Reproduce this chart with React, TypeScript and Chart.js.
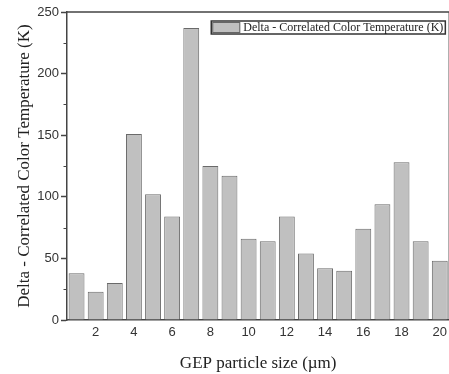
import React, { useEffect, useRef } from 'react';
import { Chart, registerables } from 'chart.js';

Chart.register(...registerables);

// ---- data ----
const particleSizes: string[] = ['1', '2', '3', '4', '5', '6', '7', '8', '9', '10', '11', '12', '13', '14', '15', '16', '17', '18', '19', '20'];
const deltaCCT: number[] = [38, 23, 30, 151, 102, 84, 237, 125, 117, 66, 64, 84, 54, 42, 40, 74, 94, 128, 64, 48];
const seriesLabel = 'Delta - Correlated Color Temperature (K)';
const xTitle = 'GEP particle size (\u00b5m)';
const yTitle = 'Delta - Correlated Color Temperature (K)';
const yMin = 0;
const yMax = 250;
const yStep = 50;
const yMinorValues: number[] = [25, 75, 125, 175, 225];

const AXIS = '#444444';

const decorPlugin = {
  id: 'decor',
  afterDraw(chart: any) {
    const { ctx, chartArea: a, scales } = chart;
    const y = scales.y;
    ctx.save();
    // frame (top + right)
    ctx.strokeStyle = AXIS;
    ctx.lineWidth = 1.5;
    ctx.beginPath();
    ctx.moveTo(a.left, a.top);
    ctx.lineTo(a.right, a.top);
    ctx.lineTo(a.right, a.bottom);
    ctx.stroke();
    // minor ticks on y
    ctx.lineWidth = 1;
    for (const v of yMinorValues) {
      const py = Math.round(y.getPixelForValue(v)) + 0.5;
      ctx.beginPath();
      ctx.moveTo(a.left - 3.5, py);
      ctx.lineTo(a.left, py);
      ctx.stroke();
    }
    // legend box
    const ds = chart.data.datasets[0];
    ctx.font = '12px "Liberation Serif"';
    const tw = ctx.measureText(ds.label).width;
    const right = a.right - 4;
    const top = a.top + 9;
    const h = 13;
    const sw = 28;
    const left = right - (sw + 4 + tw + 2);
    ctx.fillStyle = '#ffffff';
    ctx.fillRect(left, top, right - left, h);
    ctx.fillStyle = ds.backgroundColor;
    ctx.fillRect(left + 1, top + 1, sw, h - 2);
    ctx.strokeStyle = '#666666';
    ctx.lineWidth = 1;
    ctx.strokeRect(left + 1.5, top + 1.5, sw - 1, h - 3);
    ctx.strokeStyle = '#333333';
    ctx.lineWidth = 1.5;
    ctx.strokeRect(left, top, right - left, h);
    ctx.fillStyle = '#222222';
    ctx.textBaseline = 'middle';
    ctx.textAlign = 'left';
    ctx.fillText(ds.label, left + sw + 4, top + h / 2 + 0.5);
    ctx.restore();
  },
};

export default function App() {
  const canvasRef = useRef<HTMLCanvasElement | null>(null);

  useEffect(() => {
    if (!canvasRef.current) return;
    const chart = new Chart(canvasRef.current, {
      type: 'bar',
      data: {
        labels: particleSizes,
        datasets: [
          {
            label: seriesLabel,
            data: deltaCCT,
            backgroundColor: '#c0c0c0',
            borderColor: '#6a6a6a',
            borderWidth: 1,
            barPercentage: 0.83,
            categoryPercentage: 1,
          },
        ],
      },
      options: {
        animation: false,
        responsive: false,
        maintainAspectRatio: false,
        devicePixelRatio: 1,
        layout: { padding: { top: 12, left: 0, right: 0, bottom: 0 } },
        plugins: {
          legend: { display: false },
          tooltip: { enabled: false },
        },
        scales: {
          x: {
            type: 'category',
            grid: { display: false, tickLength: 0 },
            border: { display: true, color: AXIS, width: 1.5 },
            ticks: {
              autoSkip: false,
              maxRotation: 0,
              padding: 5,
              color: '#333333',
              font: { family: '"Liberation Sans", Arial, sans-serif', size: 13 },
              callback: function (this: any, _v: any, i: number) {
                const lab = particleSizes[i];
                return Number(lab) % 2 === 0 ? lab : '';
              },
            },
            title: {
              display: true,
              text: xTitle,
              color: '#222222',
              font: { family: '"Liberation Serif", "Times New Roman", serif', size: 17 },
              padding: { top: 0, bottom: 0 },
            },
            afterFit: (scale: any) => {
              scale.height = 54;
            },
          },
          y: {
            min: yMin,
            max: yMax,
            grid: {
              display: true,
              drawOnChartArea: false,
              drawTicks: true,
              tickLength: 6,
              tickColor: AXIS,
              tickWidth: 1.5,
            },
            border: { display: true, color: AXIS, width: 1.5 },
            ticks: {
              stepSize: yStep,
              padding: 2,
              color: '#333333',
              font: { family: '"Liberation Sans", Arial, sans-serif', size: 13 },
            },
            title: {
              display: true,
              text: yTitle,
              color: '#222222',
              font: { family: '"Liberation Serif", "Times New Roman", serif', size: 17 },
              padding: { top: 14, bottom: 0 },
            },
            afterFit: (scale: any) => {
              scale.width = 67;
            },
          },
        },
      },
      plugins: [decorPlugin],
    });
    return () => chart.destroy();
  }, []);

  return (
    <div
      style={{
        position: 'fixed',
        left: 0,
        top: 0,
        width: 449,
        height: 374,
        overflow: 'hidden',
        background: '#ffffff',
      }}
    >
      <canvas
        ref={canvasRef}
        width={452}
        height={374}
        style={{ display: 'block', width: 452, height: 374 }}
      />
    </div>
  );
}
